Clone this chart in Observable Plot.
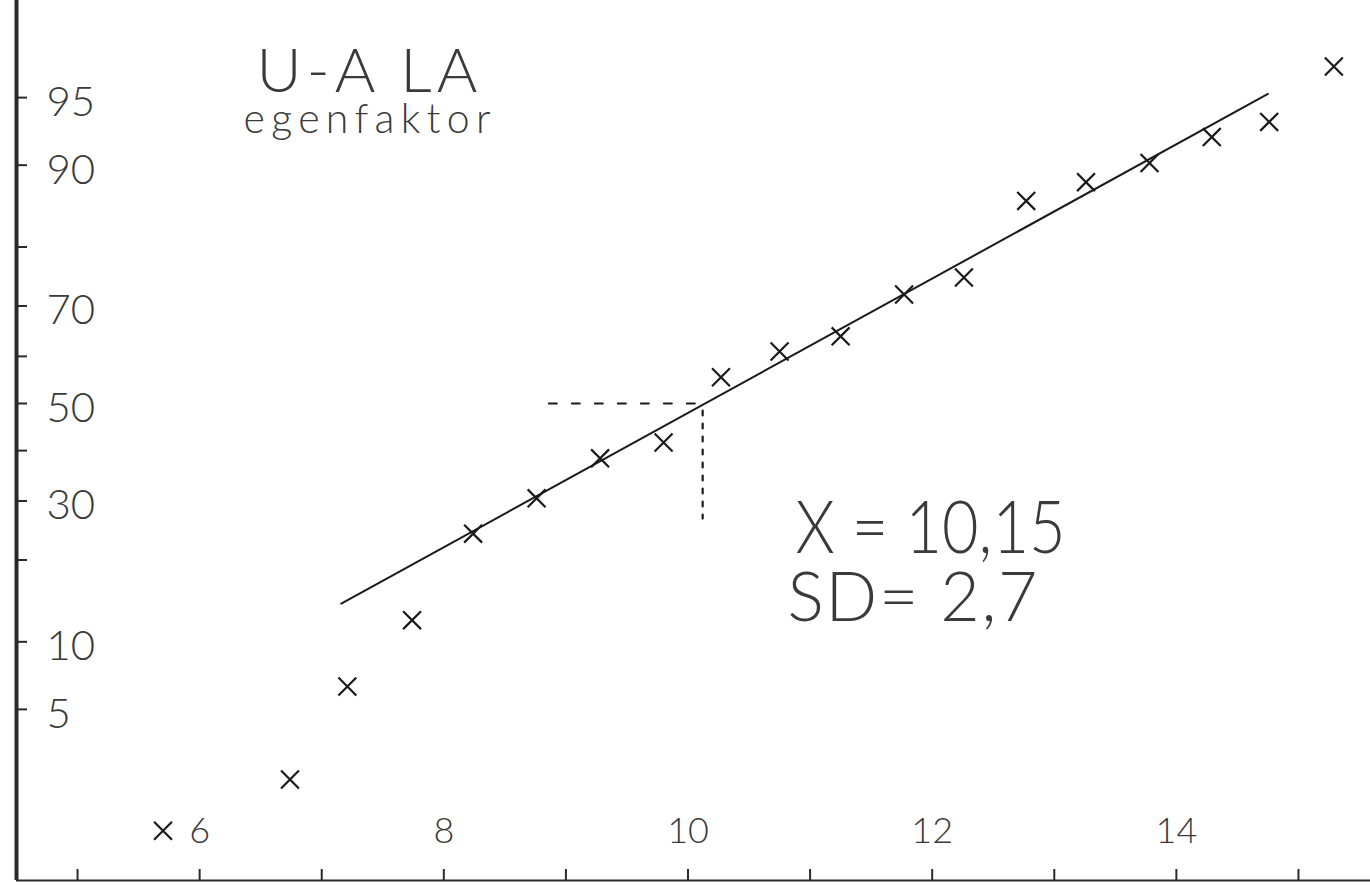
<!DOCTYPE html>
<html><head><meta charset="utf-8">
<script src="https://cdn.jsdelivr.net/npm/d3@7"></script>
<script src="https://cdn.jsdelivr.net/npm/@observablehq/plot@0.6"></script>
<style>html,body{margin:0;padding:0;background:#fff;overflow:hidden}svg{display:block}</style>
</head><body><div id="chart"></div>
<script>
// ---- data ----
const xValues = [5.70, 6.74, 7.21, 7.74, 8.24, 8.76, 9.28, 9.80, 10.27, 10.75, 11.25, 11.77, 12.26, 12.77, 13.26, 13.78, 14.29, 14.76, 15.29];
const cumPercent = [1.08, 2.16, 6.40, 12.2, 24.2, 30.5, 38.4, 41.7, 55.6, 61.0, 64.1, 72.1, 75.1, 86.2, 88.3, 90.2, 92.4, 93.5, 96.5];
const fitX = [7.16, 14.75];
const fitPercent = [14.1, 95.2];
const guideHX = [8.86, 10.10];
const guideHPercent = [50, 50];
const guideVX = [10.12, 10.12];
const guideVPercent = [48.5, 26.8];
const xTicks = [5, 6, 7, 8, 9, 10, 11, 12, 13, 14, 15];
const xTickLabels = [6, 8, 10, 12, 14];
const yTicks = [5, 10, 20, 30, 40, 50, 60, 70, 80, 90, 95];
const yTickLabels = [95, 90, 70, 50, 30, 10, 5];
const titleText = "U-A LA";
const subtitleText = "egenfaktor";
const meanText = "X = 10,15";
const sdText = "SD= 2,7";
const xDomain = [4.5, 15.59];
const yDomainProbit = [-2.565, 2.167];

// inverse normal CDF (Acklam)
function probit(p){
  const a=[-3.969683028665376e+01,2.209460984245205e+02,-2.759285104469687e+02,1.383577518672690e+02,-3.066479806614716e+01,2.506628277459239e+00];
  const b=[-5.447609879822406e+01,1.615858368580409e+02,-1.556989798598866e+02,6.680131188771972e+01,-1.328068155288572e+01];
  const c=[-7.784894002430293e-03,-3.223964580411365e-01,-2.400758277161838e+00,-2.549732539343734e+00,4.374664141464968e+00,2.938163982698783e+00];
  const d=[7.784695709041462e-03,3.224671290700398e-01,2.445134137142996e+00,3.754408661907416e+00];
  const pl=0.02425, ph=1-pl; let q,r;
  if(p<pl){q=Math.sqrt(-2*Math.log(p));return (((((c[0]*q+c[1])*q+c[2])*q+c[3])*q+c[4])*q+c[5])/((((d[0]*q+d[1])*q+d[2])*q+d[3])*q+1);}
  if(p<=ph){q=p-0.5;r=q*q;return (((((a[0]*r+a[1])*r+a[2])*r+a[3])*r+a[4])*r+a[5])*q/(((((b[0]*r+b[1])*r+b[2])*r+b[3])*r+b[4])*r+1);}
  q=Math.sqrt(-2*Math.log(1-p));return -(((((c[0]*q+c[1])*q+c[2])*q+c[3])*q+c[4])*q+c[5])/((((d[0]*q+d[1])*q+d[2])*q+d[3])*q+1);
}
const pz = v => probit(v / 100);

const points = xValues.map((x, i) => ({x, pct: cumPercent[i]}));
const fit = fitX.map((x, i) => ({x, pct: fitPercent[i]}));
const guideH = guideHX.map((x, i) => ({x, pct: guideHPercent[i]}));
const guideV = guideVX.map((x, i) => ({x, pct: guideVPercent[i]}));

const ink = "#1a1a1a";
const textInk = "#3a3a3a";
const font = "Lato, 'DejaVu Sans', sans-serif";

const chart = Plot.plot({
  width: 1370,
  height: 885,
  marginLeft: 16,
  marginRight: 0,
  marginTop: 0,
  marginBottom: 5,
  style: {background: "#fff", overflow: "visible"},
  x: {domain: xDomain, axis: null},
  y: {domain: yDomainProbit, axis: null},
  marks: [
    Plot.ruleX([xDomain[0]], {stroke: "#2a2a2a", strokeWidth: 4}),
    Plot.ruleY([yDomainProbit[0]], {stroke: "#2a2a2a", strokeWidth: 2.2}),
    Plot.tickY(yTicks, {y: pz, insetRight: 1343, stroke: "#2a2a2a", strokeWidth: 2}),
    Plot.tickX(xTicks, {x: d => d, insetTop: 869, stroke: "#2a2a2a", strokeWidth: 2}),
    Plot.text(yTickLabels, {y: pz, frameAnchor: "left", dx: 30, dy: 5, textAnchor: "start", text: d => String(d), fontSize: 42, fontWeight: 300, fontFamily: font, fill: textInk}),
    Plot.text(xTickLabels, {x: d => d, frameAnchor: "bottom", dy: -38, text: d => String(d), fontSize: 36, fontWeight: 300, fontFamily: font, fill: textInk}),
    Plot.line(fit, {x: "x", y: d => pz(d.pct), stroke: ink, strokeWidth: 2}),
    Plot.line(guideH, {x: "x", y: d => pz(d.pct), stroke: ink, strokeWidth: 2, strokeDasharray: "8,15"}),
    Plot.line(guideV, {x: "x", y: d => pz(d.pct), stroke: ink, strokeWidth: 2.2, strokeDasharray: "5,8"}),
    Plot.dot(points, {x: "x", y: d => pz(d.pct), symbol: "times", r: 8.2, stroke: ink, strokeWidth: 2.2}),
    Plot.text([titleText], {frameAnchor: "top-left", dx: 240, dy: 91, lineAnchor: "bottom", textAnchor: "start", text: d => d, fontSize: 62, fontWeight: 300, fontFamily: font, fill: textInk}),
    Plot.text([subtitleText], {frameAnchor: "top-left", dx: 227, dy: 132, lineAnchor: "bottom", textAnchor: "start", text: d => d, fontSize: 41, fontWeight: 300, fontFamily: font, fill: textInk}),
    Plot.text([meanText], {frameAnchor: "top-left", dx: 779, dy: 552, lineAnchor: "bottom", textAnchor: "start", text: d => d, fontSize: 72, fontWeight: 300, fontFamily: font, fill: textInk}),
    Plot.text([sdText], {frameAnchor: "top-left", dx: 771, dy: 620, lineAnchor: "bottom", textAnchor: "start", text: d => d, fontSize: 68, fontWeight: 300, fontFamily: font, fill: textInk})
  ]
});
document.getElementById("chart").appendChild(chart);
const lengths = {[titleText]: [221, "spacing"], [subtitleText]: [247, "spacing"], [meanText]: [270, "spacingAndGlyphs"], [sdText]: [250, "spacing"]};
d3.select(chart).selectAll("text").each(function(){
  const t = this.textContent;
  if (lengths[t]) {
    this.setAttribute("textLength", lengths[t][0]);
    this.setAttribute("lengthAdjust", lengths[t][1]);
  }
});
</script>
</body></html>
